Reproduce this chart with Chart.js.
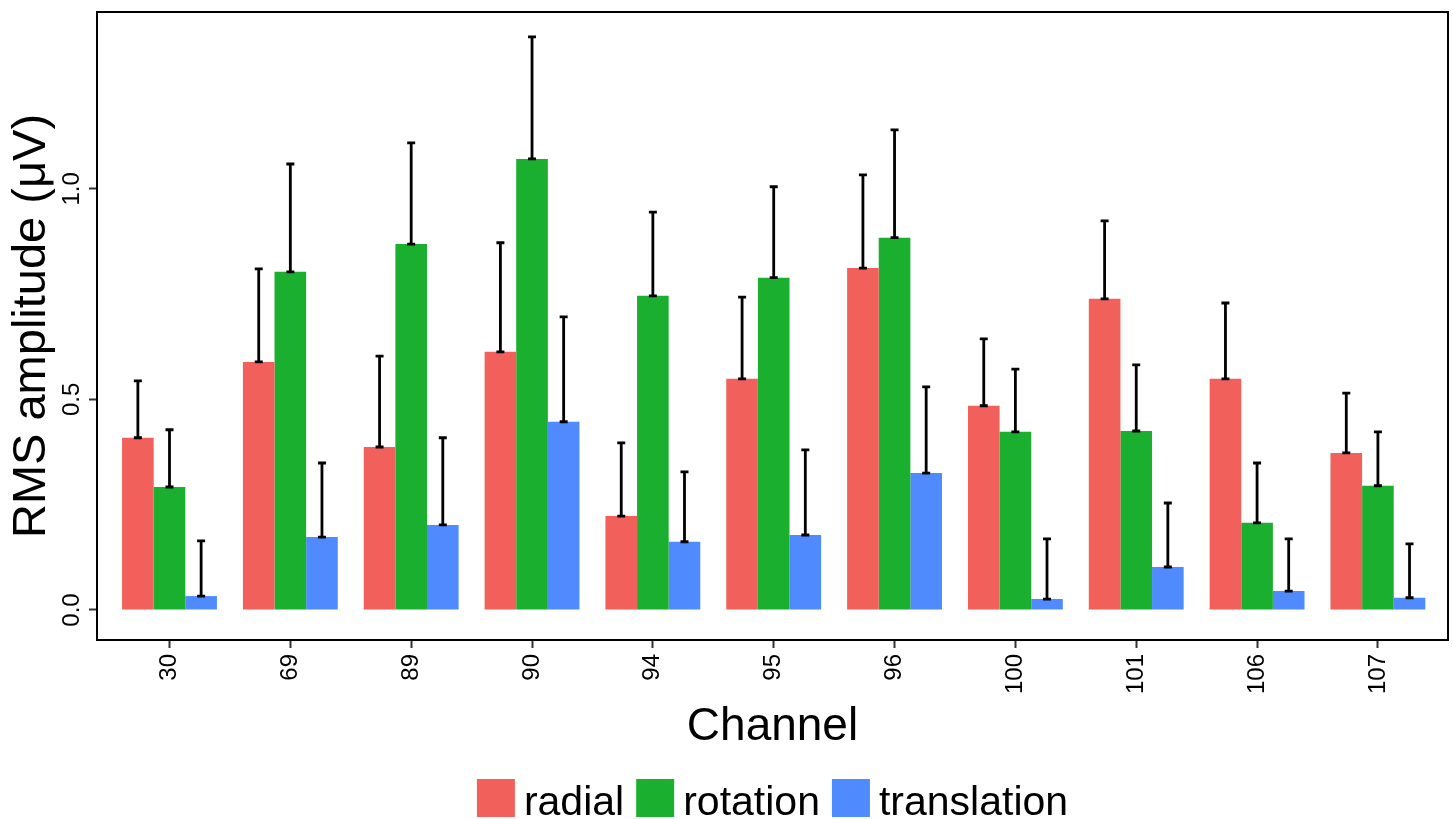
<!DOCTYPE html>
<html>
<head>
<meta charset="utf-8">
<script src="https://cdn.jsdelivr.net/npm/chart.js@4.4.1/dist/chart.umd.min.js"></script>
<style>
  html, body { margin: 0; padding: 0; background: #fff; }
  #wrap { width: 1453px; height: 819px; }
</style>
</head>
<body>
<div id="wrap"><canvas id="rmsChart" width="1453" height="819"></canvas></div>
<script>
// data
const channels = ['30', '69', '89', '90', '94', '95', '96', '100', '101', '106', '107'];

const radial      = [0.409, 0.589, 0.387, 0.613, 0.223, 0.549, 0.812, 0.485, 0.739, 0.549, 0.373];
const rotation    = [0.292, 0.803, 0.869, 1.071, 0.746, 0.789, 0.884, 0.423, 0.425, 0.207, 0.295];
const translation = [0.033, 0.173, 0.202, 0.447, 0.162, 0.178, 0.325, 0.026, 0.102, 0.045, 0.029];

// upper error (added on top of the bar)
const radialErr      = [0.135, 0.221, 0.216, 0.259, 0.174, 0.194, 0.221, 0.159, 0.185, 0.180, 0.142];
const rotationErr    = [0.136, 0.256, 0.240, 0.290, 0.199, 0.216, 0.256, 0.149, 0.157, 0.142, 0.128];
const translationErr = [0.131, 0.176, 0.207, 0.249, 0.166, 0.202, 0.205, 0.143, 0.152, 0.124, 0.128];

const yTicks = [0, 0.5, 1.0];

const font = "'Liberation Sans', Arial, Helvetica, sans-serif";

function toPoints(vals) {
    return vals.map((v, i) => ({x: i, y: v}));
}

// error bars drawn on top of the bars
const errorBars = {
    id: 'errorBars',
    afterDatasetsDraw(chart) {
        const ctx = chart.ctx;
        const yScale = chart.scales.y;
        ctx.save();
        ctx.strokeStyle = '#000';
        ctx.lineWidth = 2.8;
        chart.data.datasets.forEach((ds, di) => {
            const meta = chart.getDatasetMeta(di);
            meta.data.forEach((bar, i) => {
                const v = ds.data[i].y;
                const yTop = yScale.getPixelForValue(v + ds.errors[i]);
                const yBot = yScale.getPixelForValue(v);
                ctx.beginPath();
                ctx.moveTo(bar.x, yBot);
                ctx.lineTo(bar.x, yTop);
                ctx.moveTo(bar.x - 4, yTop);
                ctx.lineTo(bar.x + 4, yTop);
                ctx.moveTo(bar.x - 4, yBot);
                ctx.lineTo(bar.x + 4, yBot);
                ctx.stroke();
            });
        });
        ctx.restore();
    }
};

// panel border
const panelBorder = {
    id: 'panelBorder',
    afterDraw(chart) {
        const a = chart.chartArea;
        const ctx = chart.ctx;
        ctx.save();
        ctx.strokeStyle = '#000';
        ctx.lineWidth = 2;
        ctx.strokeRect(a.left, a.top, a.right - a.left, a.bottom - a.top);
        ctx.restore();
    }
};

// ggplot-like legend: tight gap between key and label
const bottomLegend = {
    id: 'bottomLegend',
    afterDraw(chart) {
        const ctx = chart.ctx;
        const a = chart.chartArea;
        const box = 38, gap = 9, spacing = 12;
        ctx.save();
        ctx.font = '41px ' + font;
        const items = chart.data.datasets.map(ds => ({
            text: ds.label, color: ds.backgroundColor, w: ctx.measureText(ds.label).width
        }));
        let total = 0;
        items.forEach((it, i) => { total += box + gap + it.w + (i < items.length - 1 ? spacing : 0); });
        let x = (a.left + a.right) / 2 - total / 2;
        const top = 779;
        ctx.textBaseline = 'alphabetic';
        ctx.textAlign = 'left';
        items.forEach(it => {
            ctx.fillStyle = it.color;
            ctx.fillRect(x, top, box, box);
            ctx.fillStyle = '#000';
            ctx.fillText(it.text, x + box + gap, top + 36);
            x += box + gap + it.w + spacing;
        });
        ctx.restore();
    }
};

const data = {
    datasets: [{
        label: 'radial',
        data: toPoints(radial),
        errors: radialErr,
        backgroundColor: '#F2605B'
    }, {
        label: 'rotation',
        data: toPoints(rotation),
        errors: rotationErr,
        backgroundColor: '#1AAF2E'
    }, {
        label: 'translation',
        data: toPoints(translation),
        errors: translationErr,
        backgroundColor: '#508AFF'
    }]
};

const config = {
    type: 'bar',
    data: data,
    plugins: [errorBars, panelBorder, bottomLegend],
    options: {
        responsive: false,
        animation: false,
        categoryPercentage: 0.785,
        barPercentage: 1.0,
        layout: {
            padding: {top: 12, right: 5, left: 0, bottom: 64}
        },
        plugins: {
            tooltip: {enabled: false},
            legend: {display: false}
        },
        scales: {
            x: {
                type: 'linear',
                offset: false,
                min: -0.6,
                max: 10.58,
                afterBuildTicks: (axis) => {
                    axis.ticks = channels.map((c, i) => ({value: i}));
                },
                afterFit: (axis) => {
                    axis.height = 115;
                    axis.paddingLeft = 0;
                    axis.paddingRight = 0;
                },
                grid: {
                    offset: false,
                    drawOnChartArea: false,
                    drawTicks: true,
                    tickLength: 8,
                    tickWidth: 2,
                    color: '#333'
                },
                border: {display: false},
                ticks: {
                    minRotation: 90,
                    maxRotation: 90,
                    padding: 6,
                    color: '#000',
                    font: {family: font, size: 24},
                    callback: (v) => channels[v]
                },
                title: {
                    display: true,
                    text: 'Channel',
                    color: '#000',
                    font: {family: font, size: 46},
                    padding: {top: 0, bottom: 0}
                }
            },
            y: {
                min: -0.0713,
                max: 1.42,
                afterBuildTicks: (axis) => {
                    axis.ticks = yTicks.map(v => ({value: v}));
                },
                afterFit: (axis) => {
                    axis.width = 97;
                    axis.paddingTop = 0;
                    axis.paddingBottom = 0;
                },
                grid: {
                    drawOnChartArea: false,
                    drawTicks: true,
                    tickLength: 8,
                    tickWidth: 2,
                    color: '#333'
                },
                border: {display: false},
                ticks: {
                    minRotation: 90,
                    maxRotation: 90,
                    crossAlign: 'center',
                    padding: 0,
                    color: '#000',
                    font: {family: font, size: 24},
                    callback: (v) => v.toFixed(1)
                },
                title: {
                    display: true,
                    text: 'RMS amplitude (μV)',
                    color: '#000',
                    font: {family: font, size: 47},
                    padding: {top: 4, bottom: 4}
                }
            }
        }
    }
};

const rmsChart = new Chart(document.getElementById('rmsChart'), config);
</script>
</body>
</html>
